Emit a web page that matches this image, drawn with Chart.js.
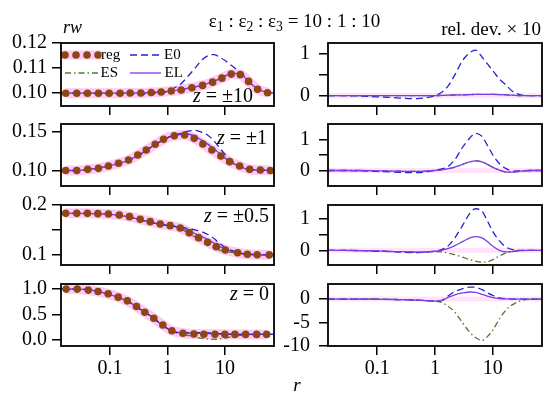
<!DOCTYPE html>
<html>
<head>
<meta charset="utf-8">
<title>rw vs r</title>
<script src="https://cdn.jsdelivr.net/npm/chart.js@4.4.1/dist/chart.umd.min.js"></script>
<style>
  html, body { margin: 0; padding: 0; background: #fff; }
  #wrap { position: relative; width: 550px; height: 399px; overflow: hidden; background: #fff; }
  #wrap canvas { position: absolute; }
  .lbl { position: absolute; font-family: "Liberation Serif", "Times New Roman", serif; color: #000; white-space: nowrap; }
  .lbl sub { font-size: 0.72em; vertical-align: -0.3em; line-height: 0; }
</style>
</head>
<body>
<div id="wrap"></div>
<script>
// r grid for the model curves (E0, ES, EL)
const r = [0.0141, 0.025, 0.05, 0.1, 0.2, 0.35, 0.5, 0.7, 1, 1.3, 1.7, 2.2, 3, 4, 5, 6.5, 8, 10, 13, 17, 22, 30, 45, 70.7];
const regDev = [0, 0, 0, 0, 0, 0, 0, 0, 0, 0, 0, 0, 0, 0, 0, 0, 0, 0, 0, 0, 0, 0, 0, 0];

// z = ±10
const regR10 = [0.017, 0.0265, 0.0406, 0.063, 0.097, 0.150, 0.224, 0.344, 0.521, 0.776, 1.16, 1.73, 2.65, 4.06, 6.07, 8.79, 12.8, 18.4, 25.6, 36.7, 54.8];
const regV10 = [0.1000, 0.1000, 0.1000, 0.1000, 0.1000, 0.1000, 0.1001, 0.1001, 0.1003, 0.1005, 0.1009, 0.1013, 0.1022, 0.1031, 0.1044, 0.1060, 0.1076, 0.1074, 0.1047, 0.1016, 0.1002];
const e0V10 = [0.1000, 0.1000, 0.0999, 0.0997, 0.0996, 0.0995, 0.0997, 0.1002, 0.1007, 0.1020, 0.1037, 0.1064, 0.1100, 0.1133, 0.1149, 0.1154, 0.1144, 0.1130, 0.1110, 0.1088, 0.1067, 0.1033, 0.1008, 0.1001];
const esV10 = [0.1000, 0.1000, 0.1000, 0.1000, 0.1000, 0.1001, 0.1002, 0.1004, 0.1007, 0.1010, 0.1014, 0.1019, 0.1025, 0.1031, 0.1038, 0.1047, 0.1057, 0.1067, 0.1077, 0.1078, 0.1062, 0.1032, 0.1008, 0.1001];
const elV10 = [0.1000, 0.1000, 0.1000, 0.1000, 0.1000, 0.1001, 0.1002, 0.1004, 0.1007, 0.1010, 0.1014, 0.1019, 0.1025, 0.1032, 0.1039, 0.1048, 0.1059, 0.1069, 0.1079, 0.1079, 0.1063, 0.1032, 0.1008, 0.1001];
const devE0_10 = [0, 0, -0.01, -0.03, -0.05, -0.07, -0.07, -0.05, 0, 0.08, 0.24, 0.5, 0.85, 1.04, 1.1, 0.93, 0.77, 0.6, 0.4, 0.25, 0.1, 0.02, 0, 0];
const devES_10 = [0, 0, 0, 0, 0, 0, 0, 0, 0, 0.005, 0.01, 0.015, 0.02, 0.025, 0.03, 0.03, 0.03, 0.03, 0.025, 0.02, 0.01, 0, 0, 0];
const devEL_10 = [0, 0, 0, 0, 0, 0, 0, 0, 0, 0.005, 0.01, 0.015, 0.02, 0.025, 0.03, 0.03, 0.03, 0.03, 0.025, 0.02, 0.01, 0, 0, 0];

// z = ±1
const regR1 = [0.017, 0.0265, 0.0411, 0.063, 0.094, 0.141, 0.21, 0.304, 0.426, 0.61, 0.852, 1.31, 1.98, 2.91, 4.11, 5.9, 8.45, 12.0, 17.9, 26.7, 40.9, 61];
const regV1 = [0.1000, 0.1000, 0.1015, 0.1028, 0.1058, 0.1093, 0.1135, 0.1200, 0.1265, 0.1338, 0.1402, 0.1449, 0.1458, 0.1415, 0.1342, 0.1265, 0.1187, 0.1114, 0.1058, 0.1015, 0.1006, 0.1000];
const e0V1 = [0.1000, 0.1000, 0.1020, 0.1063, 0.1122, 0.1213, 0.1291, 0.1358, 0.1423, 0.1456, 0.1478, 0.1506, 0.1518, 0.1490, 0.1456, 0.1376, 0.1293, 0.1208, 0.1124, 0.1070, 0.1034, 0.1010, 0.1004, 0.1000];
const esV1 = [0.1000, 0.1000, 0.1020, 0.1063, 0.1126, 0.1218, 0.1296, 0.1362, 0.1422, 0.1452, 0.1467, 0.1471, 0.1440, 0.1386, 0.1340, 0.1275, 0.1219, 0.1161, 0.1101, 0.1059, 0.1025, 0.1008, 0.1004, 0.1000];
const elV1 = [0.1000, 0.1000, 0.1020, 0.1063, 0.1126, 0.1218, 0.1296, 0.1362, 0.1422, 0.1452, 0.1467, 0.1471, 0.1440, 0.1386, 0.1340, 0.1275, 0.1219, 0.1161, 0.1101, 0.1059, 0.1025, 0.1008, 0.1004, 0.1000];
const devE0_1 = [0, 0, -0.01, -0.03, -0.05, -0.07, -0.07, -0.05, 0.01, 0.05, 0.14, 0.35, 0.75, 1.05, 1.2, 1.1, 0.82, 0.5, 0.22, 0.06, -0.02, -0.01, 0, 0];
const devES_1 = [0, 0, 0, -0.01, -0.02, -0.03, -0.03, -0.02, 0, 0.02, 0.06, 0.11, 0.2, 0.28, 0.31, 0.28, 0.2, 0.1, 0.01, -0.05, -0.05, -0.02, 0, 0];
const devEL_1 = [0, 0, 0, -0.01, -0.02, -0.03, -0.03, -0.02, 0, 0.02, 0.06, 0.11, 0.2, 0.28, 0.31, 0.28, 0.2, 0.1, 0.01, -0.05, -0.05, -0.02, 0, 0];

// z = ±0.5
const regR05 = [0.017, 0.0265, 0.0406, 0.0616, 0.094, 0.145, 0.218, 0.335, 0.50, 0.746, 1.11, 1.66, 2.39, 3.46, 4.97, 7.05, 10.1, 16.5, 24.4, 36.1, 58.5];
const regV05 = [0.1833, 0.1833, 0.1833, 0.1827, 0.1820, 0.1800, 0.1767, 0.1713, 0.1667, 0.1620, 0.1587, 0.1540, 0.1447, 0.1347, 0.1253, 0.1167, 0.1100, 0.1045, 0.1015, 0.1005, 0.1002];
const e0V05 = [0.1833, 0.1833, 0.1829, 0.1813, 0.1766, 0.1696, 0.1655, 0.1618, 0.1592, 0.1575, 0.1558, 0.1531, 0.1501, 0.1462, 0.1410, 0.1325, 0.1232, 0.1150, 0.1092, 0.1050, 0.1024, 0.1010, 0.1004, 0.1002];
const esV05 = [0.1833, 0.1833, 0.1829, 0.1814, 0.1768, 0.1699, 0.1657, 0.1620, 0.1591, 0.1564, 0.1521, 0.1451, 0.1359, 0.1271, 0.1208, 0.1143, 0.1098, 0.1069, 0.1051, 0.1035, 0.1019, 0.1010, 0.1004, 0.1002];
const elV05 = [0.1833, 0.1833, 0.1829, 0.1814, 0.1768, 0.1699, 0.1657, 0.1620, 0.1592, 0.1572, 0.1544, 0.1494, 0.1429, 0.1362, 0.1307, 0.1236, 0.1172, 0.1116, 0.1070, 0.1038, 0.1018, 0.1009, 0.1004, 0.1002];
const devE0_05 = [0, 0, -0.01, -0.03, -0.05, -0.07, -0.07, -0.06, -0.03, 0.02, 0.15, 0.4, 0.8, 1.18, 1.33, 1.25, 0.95, 0.6, 0.3, 0.1, 0.02, 0, 0, 0];
const devES_05 = [0, 0, -0.01, -0.02, -0.04, -0.05, -0.06, -0.05, -0.04, -0.05, -0.09, -0.14, -0.22, -0.3, -0.35, -0.38, -0.37, -0.3, -0.18, -0.08, -0.03, 0, 0, 0];
const devEL_05 = [0, 0, -0.01, -0.02, -0.04, -0.05, -0.06, -0.05, -0.03, 0, 0.06, 0.15, 0.28, 0.4, 0.44, 0.4, 0.28, 0.13, 0, -0.05, -0.04, -0.01, 0, 0];

// z = 0
const regR0 = [0.0173, 0.027, 0.042, 0.062, 0.093, 0.139, 0.2, 0.289, 0.403, 0.578, 0.829, 1.19, 1.85, 2.87, 4.28, 6.66, 9.9, 14.8, 22.7, 35.3, 52.7];
const regV0 = [1.0, 1.0, 0.98, 0.953, 0.907, 0.842, 0.769, 0.657, 0.546, 0.428, 0.296, 0.183, 0.132, 0.118, 0.112, 0.111, 0.11, 0.11, 0.11, 0.11, 0.11];
const e0V0 = [1.0, 1.0, 0.975, 0.890, 0.762, 0.591, 0.478, 0.347, 0.224, 0.160, 0.148, 0.146, 0.144, 0.143, 0.140, 0.133, 0.125, 0.118, 0.113, 0.1105, 0.11, 0.11, 0.11, 0.11];
const esV0 = [1.0, 1.0, 0.975, 0.890, 0.762, 0.591, 0.478, 0.347, 0.224, 0.153, 0.117, 0.093, 0.058, 0.033, 0.020, 0.013, 0.022, 0.037, 0.064, 0.085, 0.097, 0.106, 0.1095, 0.11];
const elV0 = [1.0, 1.0, 0.975, 0.890, 0.762, 0.591, 0.478, 0.347, 0.224, 0.159, 0.1435, 0.137, 0.133, 0.131, 0.128, 0.122, 0.117, 0.113, 0.111, 0.11, 0.11, 0.11, 0.11, 0.11];
const devE0_0 = [0, 0, 0, -0.05, -0.1, -0.15, -0.25, -0.35, -0.45, -0.3, 0.7, 1.6, 2.2, 2.55, 2.5, 2.0, 1.35, 0.75, 0.25, 0.05, 0, 0, 0, 0];
const devES_0 = [0, 0, 0, -0.05, -0.1, -0.15, -0.25, -0.35, -0.45, -0.7, -1.6, -2.8, -5.1, -7.1, -8.2, -8.8, -8.0, -6.6, -4.2, -2.3, -1.2, -0.4, -0.05, 0];
const devEL_0 = [0, 0, 0, -0.05, -0.1, -0.15, -0.25, -0.35, -0.45, -0.35, 0.4, 0.9, 1.3, 1.5, 1.4, 1.0, 0.6, 0.3, 0.1, 0.02, 0, 0, 0, 0];

// axis ticks
const xTicks = [0.1, 1, 10];
const xTickLabels = ['0.1', '1', '10'];

const FONT = '"Liberation Serif", "Times New Roman", serif';
const C_E0 = '#2323d2';
const C_ES = '#4e7d2c';
const C_EL = '#7a3ee6';
const C_REG = '#8f4612';
const C_BAND = 'rgba(255, 60, 230, 0.28)';

const wrap = document.getElementById('wrap');

// black box round the plot area
const frame = {
    id: 'frame',
    afterDraw(chart) {
        const a = chart.chartArea;
        const ctx = chart.ctx;
        ctx.save();
        ctx.strokeStyle = '#000';
        ctx.lineWidth = 1.8;
        ctx.strokeRect(a.left, a.top, a.right - a.left, a.bottom - a.top);
        ctx.restore();
    }
};

// legend markers in the first panel (labels are html below)
const legendMarks = {
    id: 'legendMarks',
    afterDatasetsDraw(chart) {
        const a = chart.chartArea;
        const ctx = chart.ctx;
        const x0 = a.left, y0 = a.top;
        ctx.save();
        ctx.lineCap = 'butt';
        // reg
        ctx.strokeStyle = C_BAND;
        ctx.lineWidth = 9;
        ctx.beginPath(); ctx.moveTo(x0 + 1, y0 + 12); ctx.lineTo(x0 + 40, y0 + 12); ctx.stroke();
        ctx.fillStyle = C_REG;
        [4, 15, 26, 37].forEach(dx => {
            ctx.beginPath(); ctx.arc(x0 + dx, y0 + 12, 3.8, 0, Math.PI * 2); ctx.fill();
        });
        ctx.lineWidth = 1.3;
        // E0
        ctx.strokeStyle = C_E0;
        ctx.setLineDash([7, 4]);
        ctx.beginPath(); ctx.moveTo(x0 + 69, y0 + 12); ctx.lineTo(x0 + 100, y0 + 12); ctx.stroke();
        // ES
        ctx.strokeStyle = C_ES;
        ctx.setLineDash([6, 3, 1.5, 3]);
        ctx.beginPath(); ctx.moveTo(x0 + 4, y0 + 30); ctx.lineTo(x0 + 37, y0 + 30); ctx.stroke();
        // EL
        ctx.strokeStyle = C_EL;
        ctx.setLineDash([]);
        ctx.beginPath(); ctx.moveTo(x0 + 69, y0 + 30); ctx.lineTo(x0 + 100, y0 + 30); ctx.stroke();
        ctx.restore();
    }
};

function pts(xs, ys) {
    return xs.map((x, i) => ({ x: x, y: ys[i] }));
}

function leftSets(regR, regV, e0, es, el) {
    return [
        { data: pts(regR, regV), borderColor: C_BAND, borderWidth: 10, pointRadius: 0, order: 10 },
        { data: pts(r, es), borderColor: C_ES, borderDash: [6, 3, 1.5, 3], order: 4 },
        { data: pts(r, el), borderColor: C_EL, order: 3 },
        { data: pts(r, e0), borderColor: C_E0, borderDash: [7, 4], order: 2 },
        { data: pts(regR, regV), showLine: false, pointRadius: 3.8, pointBackgroundColor: C_REG,
          pointBorderColor: C_REG, pointBorderWidth: 0, order: 0 }
    ];
}

function rightSets(e0, es, el) {
    return [
        { data: pts(r, regDev), borderColor: 'rgba(255, 60, 230, 0.14)', borderWidth: 5, order: 10 },
        { data: pts(r, es), borderColor: C_ES, borderDash: [6, 3, 1.5, 3], order: 4 },
        { data: pts(r, e0), borderColor: C_E0, borderDash: [7, 4], order: 3 },
        { data: pts(r, el), borderColor: C_EL, order: 2 }
    ];
}

function makePanel(p) {
    // generous margins so the y labels' half heights never push the plot area
    const padTop = 30;
    const xH = p.bottom ? 44 : 30;
    const h = padTop + p.h + xH;
    const cv = document.createElement('canvas');
    cv.width = p.colW;
    cv.height = h;
    cv.style.left = p.colX + 'px';
    cv.style.top = (p.top - padTop) + 'px';
    cv.style.width = p.colW + 'px';
    cv.style.height = h + 'px';
    wrap.appendChild(cv);

    new Chart(cv, {
        type: 'line',
        data: { datasets: p.datasets },
        options: {
            responsive: false,
            animation: false,
            devicePixelRatio: 1,
            layout: { padding: { top: padTop, right: p.colW - p.axisW - p.w, left: 0, bottom: 0 } },
            plugins: { legend: { display: false }, tooltip: { enabled: false } },
            elements: {
                point: { radius: 0 },
                line: { tension: 0, cubicInterpolationMode: 'monotone', borderWidth: 1.3 }
            },
            scales: {
                x: {
                    type: 'logarithmic',
                    min: 0.0141,
                    max: 70.7,
                    afterBuildTicks: s => { s.ticks = xTicks.map(v => ({ value: v })); },
                    afterFit: s => { s.height = xH; },
                    border: { display: false },
                    grid: { drawOnChartArea: false, drawTicks: true, tickLength: 9, color: '#000', lineWidth: 1.5 },
                    ticks: {
                        autoSkip: false, maxRotation: 0, padding: 2, color: '#000',
                        font: { family: FONT, size: 20 },
                        callback: (v, i) => p.bottom ? xTickLabels[i] : ''
                    }
                },
                y: {
                    min: p.yMin,
                    max: p.yMax,
                    afterBuildTicks: s => { s.ticks = p.yTicks.map(v => ({ value: v })); },
                    afterFit: s => { s.width = p.axisW; },
                    border: { display: false },
                    grid: { drawOnChartArea: false, drawTicks: true, tickLength: 9, color: '#000', lineWidth: 1.5 },
                    ticks: {
                        autoSkip: false, padding: p.labPad, color: '#000',
                        font: { family: FONT, size: 20 },
                        callback: (v, i) => p.yLabels[i]
                    }
                }
            }
        },
        plugins: [frame].concat(p.extra || [])
    });
}

const tops = [43, 124, 205, 284];
const heights = [63, 62, 60, 62];
const L = { colX: 0, colW: 280, axisW: 61, w: 213, labPad: 5 };
const R = { colX: 280, colW: 270, axisW: 48, w: 214, labPad: 9 };

makePanel(Object.assign({}, L, { top: tops[0], h: heights[0], yMin: 0.0949, yMax: 0.12,
    yTicks: [0.10, 0.11, 0.12], yLabels: ['0.10', '0.11', '0.12'],
    datasets: leftSets(regR10, regV10, e0V10, esV10, elV10), extra: [legendMarks] }));
makePanel(Object.assign({}, L, { top: tops[1], h: heights[1], yMin: 0.08, yMax: 0.16,
    yTicks: [0.10, 0.15], yLabels: ['0.10', '0.15'],
    datasets: leftSets(regR1, regV1, e0V1, esV1, elV1) }));
makePanel(Object.assign({}, L, { top: tops[2], h: heights[2], yMin: 0.08, yMax: 0.2,
    yTicks: [0.1, 0.15, 0.2], yLabels: ['0.1', '', '0.2'],
    datasets: leftSets(regR05, regV05, e0V05, esV05, elV05) }));
makePanel(Object.assign({}, L, { top: tops[3], h: heights[3], yMin: -0.118, yMax: 1.1, bottom: true,
    yTicks: [0, 0.5, 1], yLabels: ['0.0', '0.5', '1.0'],
    datasets: leftSets(regR0, regV0, e0V0, esV0, elV0) }));

makePanel(Object.assign({}, R, { top: tops[0], h: heights[0], yMin: -0.25, yMax: 1.27,
    yTicks: [0, 0.5, 1], yLabels: ['0', '', '1'],
    datasets: rightSets(devE0_10, devES_10, devEL_10) }));
makePanel(Object.assign({}, R, { top: tops[1], h: heights[1], yMin: -0.5, yMax: 1.5,
    yTicks: [0, 0.5, 1], yLabels: ['0', '', '1'],
    datasets: rightSets(devE0_1, devES_1, devEL_1) }));
makePanel(Object.assign({}, R, { top: tops[2], h: heights[2], yMin: -0.47, yMax: 1.45,
    yTicks: [0, 0.5, 1], yLabels: ['0', '', '1'],
    datasets: rightSets(devE0_05, devES_05, devEL_05) }));
makePanel(Object.assign({}, R, { top: tops[3], h: heights[3], yMin: -10, yMax: 3.2, bottom: true,
    yTicks: [-10, -5, 0], yLabels: ['-10', '-5', '0'],
    datasets: rightSets(devE0_0, devES_0, devEL_0) }));

// html text, placed by baseline
function label(html, x, base, size, align) {
    const d = document.createElement('div');
    d.className = 'lbl';
    d.innerHTML = html;
    d.style.fontSize = size + 'px';
    d.style.lineHeight = size + 'px';
    d.style.top = (base - (size * (1 - 1.107) / 2 + 0.891 * size)) + 'px';
    if (align === 'right') {
        d.style.right = (550 - x) + 'px';
    } else if (align === 'center') {
        d.style.left = x + 'px';
        d.style.transform = 'translateX(-50%)';
    } else {
        d.style.left = x + 'px';
    }
    wrap.appendChild(d);
}

label('ε<sub>1</sub> : ε<sub>2</sub> : ε<sub>3</sub> = 10 : 1 : 10', 294.5, 27, 19, 'center');
label('rel. dev. × 10', 541, 35, 19, 'right');
label('<i>rw</i>', 63, 33, 18, 'left');
label('<i>r</i>', 297, 391, 19, 'center');
label('<i>z</i> = ±10', 253, 102, 20, 'right');
label('<i>z</i> = ±1', 267, 144, 20, 'right');
label('<i>z</i> = ±0.5', 269, 222, 20, 'right');
label('<i>z</i> = 0', 269, 300, 20, 'right');
label('reg', 101, 60, 15, 'left');
label('E0', 164, 59.5, 15, 'left');
label('ES', 100.5, 77.5, 15, 'left');
label('EL', 164.5, 77.5, 15, 'left');
</script>
</body>
</html>
